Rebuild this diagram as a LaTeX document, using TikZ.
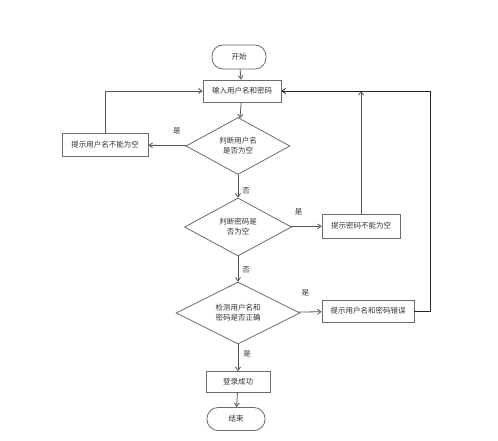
\documentclass[tikz,border=0pt]{standalone}
\usepackage{fontspec}
\newfontfamily\cjk{Noto Sans CJK SC}
\usetikzlibrary{positioning,arrows.meta,shapes.geometric}
\definecolor{ink}{HTML}{333333}
\definecolor{edge}{HTML}{6B6B6B}
\definecolor{wire}{HTML}{555555}

\begin{document}
\begin{tikzpicture}[x=1pt,y=-1pt,
  font=\cjk\fontsize{7.5}{10}\selectfont, text=ink,
  procbox/.style={draw=edge, line width=0.8pt, fill=white, inner sep=0pt},
  termbox/.style={draw=edge, line width=0.8pt, fill=white, rounded corners=11pt, inner sep=0pt},
  decbox/.style={draw=edge, line width=0.8pt, fill=white, diamond, inner sep=0pt, align=center},
  flow/.style={draw=wire, line width=0.8pt, -{Straight Barb[length=3.5pt,width=5pt]}},
  lbl/.style={inner sep=1pt}]
\useasboundingbox (0,0) rectangle (498,440);
% nodes
\node[termbox, minimum width=54, minimum height=24] (start) at (239,57) {开始};
\node[procbox, minimum width=78, minimum height=22] (in) at (242,91) {输入用户名和密码};
\node[decbox, minimum width=104, minimum height=57] (d1) at (238,146) {判断用户名\\是否为空};
\node[procbox, minimum width=86, minimum height=23] (usr) at (105,145) {提示用户名不能为空};
\node[decbox, minimum width=107, minimum height=58] (d2) at (238,227) {判断密码是\\否为空};
\node[procbox, minimum width=78, minimum height=24] (pwd) at (361,226) {提示密码不能为空};
\node[decbox, minimum width=124, minimum height=58] (d3) at (238,313) {检测用户名和\\密码是否正确};
\node[procbox, minimum width=92, minimum height=22] (err) at (368,311) {提示用户名和密码错误};
\node[procbox, minimum width=64, minimum height=21] (ok) at (238,382) {登录成功};
\node[termbox, minimum width=58, minimum height=23] (end) at (236,419) {结束};
\coordinate (back) at (430,311);
% connectors
\draw[flow] (start) -- (in);
\draw[flow] (in) -- (d1);
\draw[flow] (d1) -- node[lbl, pos=0.25, above=10pt] {是} (usr);
\draw[flow] (usr.north) |- (in.west);
\draw[flow] (d1) -- node[lbl, right=3pt, pos=0.7] {否} (d2);
\draw[flow] (d2) -- node[lbl, pos=0.25, above=10pt] {是} (pwd);
\draw[flow] (pwd.north) -- (pwd.north |- in.east);
\draw[flow] (d2) -- node[lbl, right=3pt, pos=0.55] {否} (d3);
\draw[flow] (d3) -- node[lbl, pos=0.3, above=14pt] {是} (err);
\draw[flow, draw=black!85] (err.east) -- (back) -- (back |- in.east) -- (in.east);
\draw[flow] (d3) -- node[lbl, right=4pt, pos=0.35] {是} (ok);
\draw[flow] (ok) -- (end);
\end{tikzpicture}
\end{document}
